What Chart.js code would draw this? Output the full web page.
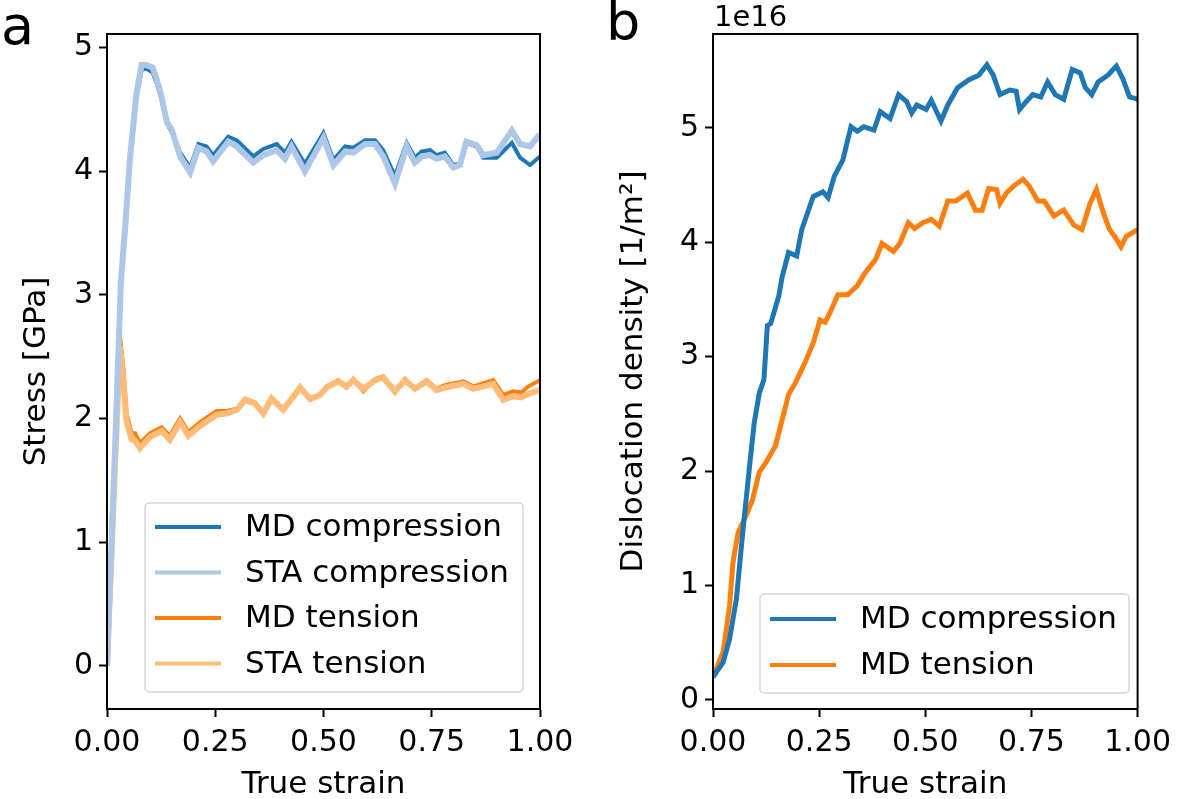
<!DOCTYPE html>
<html>
<head>
<meta charset="utf-8">
<script src="https://cdn.jsdelivr.net/npm/chart.js@4/dist/chart.umd.min.js"></script>
<style>
    body { margin: 0; background: #fff; }
    #wrap { position: relative; width: 1179px; height: 799px; overflow: hidden; font-family: "DejaVu Sans", sans-serif; }
    #stressChart { position: absolute; left: 0; top: 0; }
    #densChart { position: absolute; left: 590px; top: 0; }
    .panel { position: absolute; font-size: 54px; line-height: 1; color: #000; }
    #offset { position: absolute; left: 714px; top: 2px; font-size: 29px; line-height: 1; }
</style>
</head>
<body>
<div id="wrap">
    <canvas id="stressChart" width="590" height="799"></canvas>
    <canvas id="densChart" width="589" height="799"></canvas>
    <div class="panel" style="left:1px; top:-1px;">a</div>
    <div class="panel" style="left:606px; top:-5px;">b</div>
    <div id="offset">1e16</div>
</div>
<script>
//############################ Data ############################
// panel a: stress [GPa] vs true strain
const compStrain = [0, 0.01, 0.02, 0.032, 0.042, 0.053, 0.068, 0.08, 0.09, 0.105, 0.115, 0.126, 0.138, 0.149, 0.169, 0.192, 0.211, 0.23, 0.245, 0.28, 0.30, 0.338, 0.361, 0.392, 0.411, 0.426, 0.457, 0.50, 0.523, 0.55, 0.569, 0.596, 0.619, 0.638, 0.665, 0.692, 0.711, 0.727, 0.746, 0.761, 0.78, 0.80, 0.815, 0.83, 0.854, 0.869, 0.90, 0.935, 0.954, 0.977, 1.0];
const mdCompression = [0, 0.95, 1.9, 3.1, 3.52, 4.07, 4.6, 4.82, 4.83, 4.80, 4.71, 4.58, 4.39, 4.32, 4.15, 4.03, 4.22, 4.2, 4.13, 4.28, 4.25, 4.12, 4.18, 4.22, 4.15, 4.24, 4.06, 4.31, 4.09, 4.2, 4.19, 4.25, 4.25, 4.17, 3.96, 4.23, 4.11, 4.16, 4.17, 4.13, 4.15, 4.05, 4.06, 4.23, 4.2, 4.11, 4.11, 4.23, 4.11, 4.05, 4.12];
const staCompression = [0, 0.95, 1.9, 3.1, 3.55, 4.1, 4.63, 4.86, 4.86, 4.84, 4.74, 4.6, 4.4, 4.34, 4.12, 3.99, 4.19, 4.16, 4.08, 4.24, 4.2, 4.07, 4.13, 4.17, 4.1, 4.2, 4.0, 4.27, 4.05, 4.16, 4.15, 4.22, 4.22, 4.12, 3.9, 4.2, 4.07, 4.12, 4.13, 4.1, 4.12, 4.03, 4.05, 4.24, 4.21, 4.13, 4.15, 4.33, 4.22, 4.2, 4.3];

const tensStrain = [0, 0.01, 0.02, 0.03, 0.038, 0.045, 0.057, 0.065, 0.076, 0.099, 0.126, 0.145, 0.169, 0.188, 0.215, 0.253, 0.276, 0.30, 0.319, 0.342, 0.361, 0.38, 0.407, 0.446, 0.469, 0.492, 0.507, 0.534, 0.553, 0.569, 0.592, 0.619, 0.638, 0.665, 0.688, 0.711, 0.738, 0.761, 0.78, 0.823, 0.846, 0.892, 0.915, 0.938, 0.957, 0.973, 1.0];
const mdTension = [0, 0.9, 1.8, 2.67, 2.4, 2.04, 1.88, 1.88, 1.80, 1.88, 1.93, 1.86, 2.0, 1.89, 1.97, 2.06, 2.06, 2.08, 2.16, 2.13, 2.05, 2.17, 2.08, 2.26, 2.15, 2.19, 2.26, 2.31, 2.25, 2.32, 2.22, 2.32, 2.34, 2.21, 2.32, 2.24, 2.31, 2.24, 2.27, 2.30, 2.26, 2.31, 2.19, 2.22, 2.21, 2.26, 2.31];
const staTension = [0, 0.88, 1.75, 2.58, 2.3, 1.98, 1.83, 1.82, 1.76, 1.85, 1.9, 1.83, 1.97, 1.86, 1.94, 2.03, 2.04, 2.07, 2.15, 2.12, 2.04, 2.16, 2.07, 2.25, 2.16, 2.19, 2.25, 2.3, 2.26, 2.31, 2.24, 2.31, 2.33, 2.22, 2.31, 2.24, 2.3, 2.23, 2.25, 2.28, 2.24, 2.28, 2.15, 2.18, 2.17, 2.2, 2.23];

// panel b: dislocation density [1e16 1/m^2] vs true strain
const densCompStrain = [0, 0.024, 0.039, 0.055, 0.07, 0.086, 0.097, 0.109, 0.12, 0.128, 0.136, 0.155, 0.163, 0.178, 0.197, 0.209, 0.236, 0.259, 0.271, 0.286, 0.306, 0.325, 0.34, 0.355, 0.379, 0.394, 0.417, 0.437, 0.456, 0.468, 0.48, 0.502, 0.514, 0.537, 0.553, 0.576, 0.603, 0.626, 0.645, 0.66, 0.676, 0.699, 0.714, 0.722, 0.738, 0.753, 0.772, 0.788, 0.806, 0.826, 0.846, 0.865, 0.877, 0.892, 0.907, 0.93, 0.95, 0.965, 0.981, 1.0];
const densCompression = [0.20, 0.33, 0.53, 0.88, 1.46, 2.04, 2.42, 2.68, 2.8, 3.27, 3.29, 3.53, 3.70, 3.91, 3.88, 4.11, 4.40, 4.44, 4.39, 4.58, 4.72, 5.01, 4.97, 5.01, 4.98, 5.14, 5.08, 5.29, 5.23, 5.13, 5.2, 5.16, 5.24, 5.06, 5.2, 5.35, 5.42, 5.46, 5.55, 5.46, 5.29, 5.33, 5.32, 5.16, 5.23, 5.29, 5.27, 5.4, 5.29, 5.25, 5.51, 5.48, 5.35, 5.29, 5.4, 5.46, 5.54, 5.43, 5.27, 5.25];

const densTensStrain = [0, 0.024, 0.039, 0.047, 0.059, 0.066, 0.078, 0.093, 0.109, 0.124, 0.147, 0.163, 0.178, 0.194, 0.217, 0.236, 0.252, 0.264, 0.275, 0.294, 0.317, 0.34, 0.356, 0.383, 0.398, 0.425, 0.44, 0.46, 0.475, 0.494, 0.514, 0.533, 0.553, 0.572, 0.599, 0.618, 0.634, 0.649, 0.668, 0.676, 0.691, 0.711, 0.73, 0.745, 0.765, 0.78, 0.803, 0.826, 0.85, 0.869, 0.888, 0.903, 0.919, 0.934, 0.946, 0.961, 0.973, 1.0];
const densTension = [0.20, 0.42, 0.82, 1.2, 1.46, 1.52, 1.61, 1.75, 1.99, 2.07, 2.22, 2.45, 2.67, 2.77, 2.95, 3.12, 3.32, 3.30, 3.38, 3.54, 3.54, 3.62, 3.72, 3.85, 3.99, 3.92, 3.99, 4.17, 4.12, 4.17, 4.2, 4.14, 4.36, 4.36, 4.43, 4.28, 4.28, 4.47, 4.46, 4.34, 4.43, 4.5, 4.55, 4.49, 4.36, 4.36, 4.23, 4.28, 4.15, 4.11, 4.34, 4.46, 4.26, 4.11, 4.05, 3.96, 4.05, 4.11];

const strainTicks = [0, 0.25, 0.5, 0.75, 1.0];
const stressTicks = [0, 1, 2, 3, 4, 5];
const densTicks = [0, 1, 2, 3, 4, 5];

//############################ Helpers ############################
const FONT = { family: 'DejaVu Sans', size: 30 };
const TITLE_FONT = { family: 'DejaVu Sans', size: 31, lineHeight: 1 };
const pts = (xs, ys) => xs.map((x, i) => ({ x: x, y: ys[i] }));

const frame = {
    id: 'frame',
    afterDatasetsDraw(chart) {
        const a = chart.chartArea, ctx = chart.ctx;
        ctx.save();
        ctx.strokeStyle = '#000';
        ctx.lineWidth = 2;
        ctx.strokeRect(a.left, a.top, a.right - a.left, a.bottom - a.top);
        ctx.restore();
    }
};

// legend box drawn inside the axes like matplotlib
const boxLegend = {
    id: 'boxLegend',
    afterDraw(chart, args, opts) {
        const ctx = chart.ctx;
        const b = opts.box;
        ctx.save();
        ctx.fillStyle = 'rgba(255,255,255,0.8)';
        ctx.strokeStyle = '#d6d6d6';
        ctx.lineWidth = 1.5;
        ctx.beginPath();
        ctx.roundRect(b.x, b.y, b.w, b.h, 4);
        ctx.fill();
        ctx.stroke();
        ctx.font = '31px "DejaVu Sans"';
        ctx.textBaseline = 'middle';
        chart.data.datasets.filter(d => d.inLegend).forEach((d, i) => {
            const y = b.y + opts.firstRow + i * opts.rowStep;
            ctx.strokeStyle = d.borderColor;
            ctx.lineWidth = 4;
            ctx.beginPath();
            ctx.moveTo(b.x + 10, y);
            ctx.lineTo(b.x + 76, y);
            ctx.stroke();
            ctx.fillStyle = '#000';
            ctx.fillText(d.label, b.x + 100, y + 1);
        });
        ctx.restore();
    }
};

const axisX = (ticks) => ({
    type: 'linear', min: 0, max: 1,
    afterBuildTicks: s => { s.ticks = ticks.map(v => ({ value: v })); },
    afterFit: s => { s.height = 90; },
    ticks: { callback: v => v.toFixed(2), font: FONT, color: '#000', padding: 8, maxRotation: 0, autoSkip: false },
    grid: { drawOnChartArea: false, drawTicks: true, tickLength: 8, tickWidth: 2, tickColor: '#000' },
    border: { display: true, color: '#000', width: 2 },
    title: { display: true, text: 'True strain', font: TITLE_FONT, color: '#000', padding: { top: 0, bottom: -1 } }
});

const axisY = (ticks, min, max, width, title, titlePad) => ({
    type: 'linear', min: min, max: max,
    afterBuildTicks: s => { s.ticks = ticks.map(v => ({ value: v })); },
    afterFit: s => { s.width = width; },
    ticks: { font: FONT, color: '#000', padding: 6 },
    grid: { drawOnChartArea: false, drawTicks: true, tickLength: 8, tickWidth: 2, tickColor: '#000' },
    border: { display: true, color: '#000', width: 2 },
    title: { display: true, text: title, font: TITLE_FONT, color: '#000', padding: { top: titlePad, bottom: 0 } }
});

const line = (label, data, color, width, inLegend) => ({
    label: label, data: data, borderColor: color, backgroundColor: color,
    borderWidth: width, pointRadius: 0, tension: 0, fill: false, inLegend: inLegend
});

//############################ Panel a ############################
const stressChart = new Chart(document.getElementById('stressChart'), {
    type: 'line',
    data: {
        datasets: [
            // STA lines first so the MD lines sit on top of them
            line('STA compression', pts(compStrain, staCompression), '#aec7e8', 6, false),
            line('MD compression', pts(compStrain, mdCompression), '#1f77b4', 4, false),
            line('STA tension', pts(tensStrain, staTension), '#ffbb78', 6, false),
            line('MD tension', pts(tensStrain, mdTension), '#ff7f0e', 4, false),
            // legend order
            line('MD compression', [], '#1f77b4', 4, true),
            line('STA compression', [], '#aec7e8', 4, true),
            line('MD tension', [], '#ff7f0e', 4, true),
            line('STA tension', [], '#ffbb78', 4, true)
        ]
    },
    options: {
        responsive: false, animation: false, devicePixelRatio: 1,
        layout: { padding: { left: 0, right: 50, top: 34, bottom: 0 } },
        plugins: {
            legend: { display: false }, tooltip: { enabled: false },
            boxLegend: { box: { x: 145, y: 503, w: 378, h: 189 }, firstRow: 24, rowStep: 45.5 }
        },
        scales: {
            x: axisX(strainTicks),
            y: axisY(stressTicks, -0.35, 5.11, 107, 'Stress [GPa]', 21)
        }
    },
    plugins: [frame, boxLegend]
});

//############################ Panel b ############################
const densChart = new Chart(document.getElementById('densChart'), {
    type: 'line',
    data: {
        datasets: [
            line('MD compression', pts(densCompStrain, densCompression), '#1f77b4', 5, true),
            line('MD tension', pts(densTensStrain, densTension), '#ff7f0e', 5, true)
        ]
    },
    options: {
        responsive: false, animation: false, devicePixelRatio: 1,
        layout: { padding: { left: 0, right: 34, top: 34, bottom: 0 } },
        plugins: {
            legend: { display: false }, tooltip: { enabled: false },
            boxLegend: { box: { x: 170, y: 594, w: 369, h: 99 }, firstRow: 25, rowStep: 46 }
        },
        scales: {
            x: axisX(strainTicks),
            y: axisY(densTicks, -0.08, 5.82, 123, 'Dislocation density [1/m²]', 28)
        }
    },
    plugins: [frame, boxLegend]
});
</script>
</body>
</html>
